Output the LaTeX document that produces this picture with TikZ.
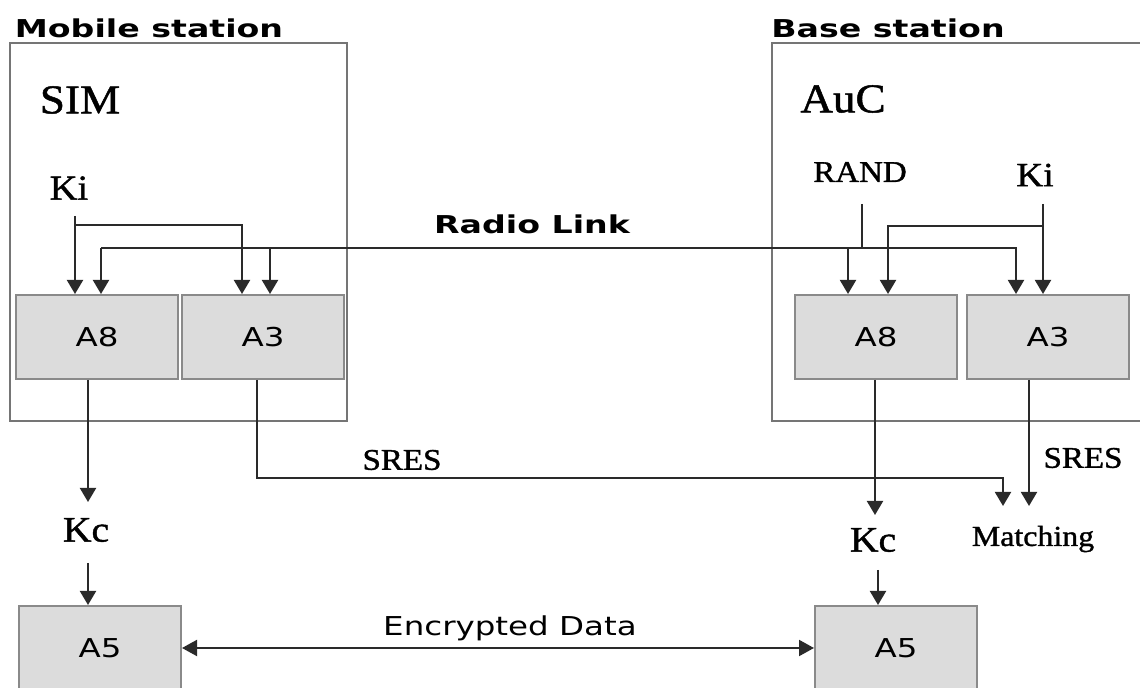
\documentclass[tikz,border=0pt]{standalone}
\usepackage{fontspec}
\setmainfont{Liberation Serif}
\newfontfamily\headfont[FakeStretch=1.35]{DejaVu Sans}
\newfontfamily\boxfont[FakeStretch=1.25]{DejaVu Sans}
\newfontfamily\lblfont[FakeStretch=1.1,FakeBold=1.2]{Liberation Serif}
\usetikzlibrary{arrows.meta}
\definecolor{boxfill}{HTML}{DCDCDC}
\definecolor{boxline}{HTML}{8A8A8A}
\definecolor{wirecol}{HTML}{2A2A2A}
\begin{document}
\begin{tikzpicture}[x=.5pt,y=-.5pt,line width=1pt,
  algo/.style={draw=boxline,fill=boxfill,minimum width=81pt,minimum height=42pt,inner sep=0pt,font=\boxfont\fontsize{13}{15}\selectfont},
  head/.style={inner sep=0pt,font=\headfont\bfseries\fontsize{12.3}{14}\selectfont},
  lbl/.style={inner sep=0pt,font=\lblfont\fontsize{15}{17}\selectfont},
  big/.style={inner sep=0pt,font=\lblfont\fontsize{#1}{#1}\selectfont},
  wire/.style={draw=wirecol,line width=1pt},
  arr/.style={wire,-{Triangle[width=8pt,length=7pt]}},
  frame/.style={draw=boxline!85!black,line width=1.1pt}]
 \useasboundingbox (0,0) rectangle (1140,688);
 \clip (0,0) rectangle (1140,688);
 \draw[frame] (10,43) rectangle (347,421);
 \draw[frame] (772,43) rectangle (1160,421);
 \node[head] (ms) at (149,28) {Mobile station};
 \node[head] (bs) at (888,28) {Base station};
 \node[big=20.5] (sim) at (80,100) {SIM};
 \node[big=20.5] (auc) at (843,99) {AuC};
 \node[algo] (a8l) at (97,337) {A8};
 \node[algo] (a3l) at (263,337) {A3};
 \node[algo] (a8r) at (876,337) {A8};
 \node[algo] (a3r) at (1048,337) {A3};
 \node[algo] (a5l) at (100,648) {A5};
 \node[algo] (a5r) at (896,648) {A5};
 \node[big=17.5] (kil) at (69,188) {Ki};
 \node[lbl] (rand) at (860,172) {RAND};
 \node[big=17] (kir) at (1035,175) {Ki};
 \node[head] (radio) at (532,224) {Radio Link};
 \node[lbl] (sresl) at (402,460) {SRES};
 \node[lbl] (sresr) at (1083,458) {SRES};
 \node[big=18] (kcl) at (86,530) {Kc};
 \node[big=18] (kcr) at (873,540) {Kc};
 \node[big=14.5] (match) at (1033,539) {Matching};
 \node[inner sep=0pt,font=\boxfont\fontsize{13}{15}\selectfont] (enc) at (510,628) {Encrypted Data};
 \coordinate (kl) at (75,216);
 \coordinate (klj) at (75,225);
 \coordinate (kl3) at (242,225);
 \draw[arr] (kl) -- (kl |- a8l.north);
 \draw[arr] (klj) -- (kl3) -- (kl3 |- a3l.north);
 \coordinate (rl) at (101,248);
 \coordinate (rr) at (1016,248);
 \coordinate (r3) at (270,248);
 \coordinate (r8) at (848,248);
 \draw[arr] (rl) -- (rr) -- (rr |- a3r.north);
 \draw[arr] (rl) -- (rl |- a8l.north);
 \draw[arr] (r3) -- (r3 |- a3l.north);
 \draw[arr] (r8) -- (r8 |- a8r.north);
 \coordinate (rd) at (862,204);
 \draw[wire] (rd) -- (rd |- rl);
 \coordinate (kr) at (1043,204);
 \coordinate (kr8) at (888,226);
 \draw[arr] (kr) -- (kr |- a3r.north);
 \draw[arr] (kr |- kr8) -- (kr8) -- (kr8 |- a8r.north);
 \coordinate (o8l) at (88,380);
 \coordinate (kcl-in) at (88,502);
 \coordinate (kcl-out) at (88,563);
 \draw[arr] (o8l) -- (kcl-in);
 \draw[arr] (kcl-out) -- (kcl-out |- a5l.north);
 \coordinate (o3l) at (257,380);
 \coordinate (mt1) at (1003,478);
 \coordinate (mtin) at (1003,506);
 \draw[arr] (o3l) |- (mt1) -- (mtin);
 \coordinate (o3r) at (1029,380);
 \draw[arr] (o3r) -- (o3r |- mtin);
 \coordinate (o8r) at (875,380);
 \coordinate (kcr-in) at (875,515);
 \coordinate (kcr-out) at (878,570);
 \draw[arr] (o8r) -- (kcr-in);
 \draw[arr] (kcr-out) -- (kcr-out |- a5r.north);
 \draw[wire,{Triangle[width=8pt,length=7.5pt]}-{Triangle[width=8pt,length=7.5pt]}] (a5l) -- (a5r);
\end{tikzpicture}
\end{document}
